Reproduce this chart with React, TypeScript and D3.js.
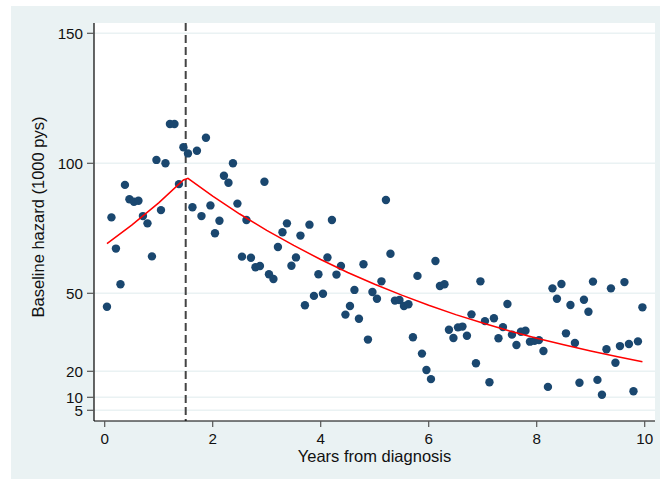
import React from "react";
import * as d3 from "d3";

// monthly interval midpoints (years from diagnosis)
const years = [
  0.042, 0.125, 0.208, 0.292, 0.375, 0.458, 0.542, 0.625, 0.708, 0.792, 0.875, 0.958,
  1.042, 1.125, 1.208, 1.292, 1.375, 1.458, 1.542, 1.625, 1.708, 1.792, 1.875, 1.958,
  2.042, 2.125, 2.208, 2.292, 2.375, 2.458, 2.542, 2.625, 2.708, 2.792, 2.875, 2.958,
  3.042, 3.125, 3.208, 3.292, 3.375, 3.458, 3.542, 3.625, 3.708, 3.792, 3.875, 3.958,
  4.042, 4.125, 4.208, 4.292, 4.375, 4.458, 4.542, 4.625, 4.708, 4.792, 4.875, 4.958,
  5.042, 5.125, 5.208, 5.292, 5.375, 5.458, 5.542, 5.625, 5.708, 5.792, 5.875, 5.958,
  6.042, 6.125, 6.208, 6.292, 6.375, 6.458, 6.542, 6.625, 6.708, 6.792, 6.875, 6.958,
  7.042, 7.125, 7.208, 7.292, 7.375, 7.458, 7.542, 7.625, 7.708, 7.792, 7.875, 7.958,
  8.042, 8.125, 8.208, 8.292, 8.375, 8.458, 8.542, 8.625, 8.708, 8.792, 8.875, 8.958,
  9.042, 9.125, 9.208, 9.292, 9.375, 9.458, 9.542, 9.625, 9.708, 9.792, 9.875, 9.958,
];

const hazard = [
  44.8, 79.2, 67.2, 53.5, 91.7, 86.2, 85.2, 85.6, 79.7, 76.9, 64.2, 101.3,
  82.0, 100.0, 115.1, 115.1, 92.0, 106.2, 103.8, 83.1, 104.8, 79.7, 109.8, 83.8,
  73.1, 77.9, 95.2, 92.5, 100.0, 84.5, 64.1, 78.2, 63.7, 60.0, 60.5, 92.9,
  57.3, 55.5, 67.8, 73.5, 76.9, 60.6, 63.8, 72.2, 45.4, 76.4, 49.0, 57.3,
  49.8, 63.8, 78.2, 57.2, 60.5, 41.8, 45.1, 51.3, 40.2, 61.2, 32.2, 50.5,
  47.9, 54.6, 85.9, 65.2, 47.2, 47.4, 45.1, 45.8, 33.1, 56.7, 26.8, 20.5,
  17.0, 62.4, 52.8, 53.5, 36.0, 32.8, 36.9, 37.2, 33.7, 41.9, 23.1, 54.6,
  39.3, 15.8, 40.4, 32.7, 37.0, 45.9, 34.1, 30.1, 35.2, 35.6, 31.4, 31.7,
  32.0, 27.8, 14.0, 51.9, 47.9, 53.6, 34.6, 45.5, 30.9, 15.6, 47.5, 42.9,
  54.5, 16.7, 11.0, 28.5, 51.9, 23.3, 29.7, 54.3, 30.5, 12.3, 31.5, 44.6,
];

// fitted piecewise curve (knot at 1.5 years)
const fitYears = [0.042, 0.5, 1.0, 1.458, 1.542, 2, 2.5, 3, 3.5, 4, 4.5, 5, 5.5, 6, 6.5, 7, 7.5, 8, 8.5, 9, 9.5, 9.958];
const fitHazard = [69.1, 76.2, 84.8, 93.6, 94.2, 87.4, 80.5, 74.2, 68.4, 63.0, 58.0, 53.5, 49.3, 45.4, 41.8, 38.6, 35.5, 32.7, 30.2, 27.8, 25.6, 23.7];

const knot = 1.5;
const xTicks = [0, 2, 4, 6, 8, 10];
const yTicks = [5, 10, 20, 50, 100, 150];

const W = 660;
const H = 479;
const plot = { left: 94, right: 655, top: 23, bottom: 421 };
const font = "'Liberation Sans', Arial, Helvetica, sans-serif";

export default function App() {
  const x = d3.scaleLinear().domain([0, 10]).range([104.7, 644.7]);
  const y = d3.scaleLinear().domain([0, 150]).range([423.3, 33.3]);

  const fitLine = d3
    .line<number>()
    .x((d, i) => x(fitYears[i]))
    .y((d) => y(d));

  return (
    <>
      <style>{`body{margin:0}`}</style>
      <svg width={W} height={H} style={{ display: "block", fontFamily: font }}>
        <rect x={0} y={0} width={W} height={H} fill="#ffffff" />
        <rect x={11} y={6} width={W - 11} height={H - 6} fill="#eaf2f3" />
        <rect
          x={plot.left}
          y={plot.top}
          width={plot.right - plot.left}
          height={plot.bottom - plot.top}
          fill="#ffffff"
        />

        {/* grid */}
        {yTicks.map((t) => (
          <line
            key={"g" + t}
            x1={plot.left}
            x2={plot.right}
            y1={y(t)}
            y2={y(t)}
            stroke="#eaf2f3"
            strokeWidth={1.5}
          />
        ))}

        {/* knot */}
        <line
          x1={x(knot)}
          x2={x(knot)}
          y1={plot.top}
          y2={plot.bottom}
          stroke="#444444"
          strokeWidth={2}
          strokeDasharray="8,4"
        />

        {hazard.map((v, i) => (
          <circle key={i} cx={x(years[i])} cy={y(v)} r={4.2} fill="#1a476f" />
        ))}

        <path d={fitLine(fitHazard) || ""} fill="none" stroke="#ff0000" strokeWidth={1.5} />

        {/* axes */}
        <line x1={plot.left} x2={plot.left} y1={plot.top} y2={plot.bottom} stroke="#000" strokeWidth={1.2} />
        <line x1={plot.left} x2={plot.right} y1={plot.bottom} y2={plot.bottom} stroke="#000" strokeWidth={1.2} />

        {yTicks.map((t) => (
          <g key={"y" + t}>
            <line x1={plot.left - 7} x2={plot.left} y1={y(t)} y2={y(t)} stroke="#555" strokeWidth={1.2} />
            <text x={plot.left - 11} y={y(t)} dy="0.36em" textAnchor="end" fontSize={15.2} fill="#111">
              {t}
            </text>
          </g>
        ))}

        {xTicks.map((t) => (
          <g key={"x" + t}>
            <line x1={x(t)} x2={x(t)} y1={plot.bottom} y2={plot.bottom + 6} stroke="#555" strokeWidth={1.2} />
            <text x={x(t)} y={443.5} textAnchor="middle" fontSize={15.2} fill="#111">
              {t}
            </text>
          </g>
        ))}

        <text x={(plot.left + plot.right) / 2} y={462} textAnchor="middle" fontSize={16.5} fill="#111">
          Years from diagnosis
        </text>
        <text
          transform={`translate(44,217) rotate(-90)`}
          textAnchor="middle"
          fontSize={16.5}
          fill="#111"
        >
          Baseline hazard (1000 pys)
        </text>
      </svg>
    </>
  );
}
